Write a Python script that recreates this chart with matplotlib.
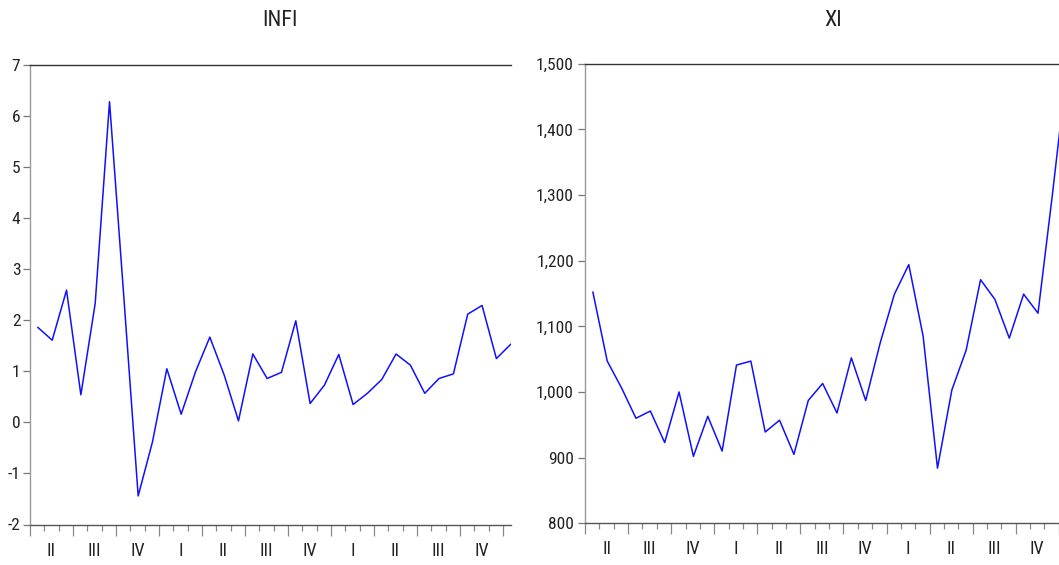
import numpy as np
import matplotlib
matplotlib.use('Agg')
import matplotlib.pyplot as plt
import matplotlib.transforms as mtrans
from matplotlib.ticker import MultipleLocator, FuncFormatter

# narrow font like the eviews output (falls back to Liberation Sans)
plt.rcParams['font.family'] = ['Liberation Sans Narrow', 'Roboto Condensed', 'Liberation Sans', 'DejaVu Sans']

# monthly data, April (year 1) to January (year 4)
infi = [1.86, 1.61, 2.59, 0.54, 2.33, 6.28, 2.45, -1.44, -0.38, 1.05,
        0.16, 0.99, 1.67, 0.93, 0.03, 1.34, 0.86, 0.98, 1.99, 0.37,
        0.73, 1.33, 0.35, 0.57, 0.84, 1.34, 1.12, 0.57, 0.86, 0.95,
        2.12, 2.29, 1.25, 1.53]
xi = [1152, 1047, 1006, 960, 971, 923, 1000, 902, 963, 910,
      1041, 1047, 939, 957, 905, 987, 1013, 968, 1052, 987,
      1074, 1149, 1194, 1085, 884, 1003, 1064, 1171, 1141, 1082,
      1149, 1120, 1300, 1490]
quarter_labels = ['II', 'III', 'IV', 'I', 'II', 'III', 'IV', 'I', 'II', 'III', 'IV']

months = np.arange(len(infi)) + 0.55

W, H = 1059, 565
fig = plt.figure(figsize=(W / 100, H / 100), dpi=100)

# axes positions in pixels
ax1 = fig.add_axes([30 / W, 1 - 524.5 / H, 481 / W, (524.5 - 65) / H])
ax2 = fig.add_axes([585 / W, 1 - 523.3 / H, 482 / W, (523.3 - 63.7) / H])


def style(ax, ymin, ymax, ystep, fmt):
    ax.set_xlim(0, 33.57)
    ax.set_ylim(ymin, ymax)
    ax.yaxis.set_major_locator(MultipleLocator(ystep))
    ax.yaxis.set_major_formatter(FuncFormatter(fmt))
    ax.spines['right'].set_visible(False)
    ax.spines['top'].set_color('#333333')
    ax.spines['bottom'].set_color('#555555')
    ax.spines['left'].set_color('#999999')
    for s in ax.spines.values():
        s.set_linewidth(1.0)
    ax.xaxis.set_major_locator(MultipleLocator(3))
    ax.xaxis.set_minor_locator(MultipleLocator(1))
    ax.tick_params(axis='x', which='major', length=8, width=0.9, color='#888888', labelbottom=False)
    ax.tick_params(axis='x', which='minor', length=4.5, width=0.9, color='#888888')
    ax.tick_params(axis='y', length=5, width=0.9, color='#777777', labelsize=12.5, pad=2,
                   labelcolor='#222222')
    # quarter labels centred between the long ticks
    trans = mtrans.blended_transform_factory(ax.transData, ax.transAxes)
    for k, lab in enumerate(quarter_labels):
        ax.text(3 * k + 1.5, -0.057, lab, transform=trans, ha='center', va='center',
                fontsize=13, color='#222222')


ax1.plot(months, infi, color='#1010ff', lw=1.1)
style(ax1, -2, 7, 1, lambda v, p: f'{v:.0f}')

ax2.plot(months, xi, color='#1010ff', lw=1.1)
style(ax2, 800, 1500, 100, lambda v, p: f'{v:,.0f}')
ax2.tick_params(axis='y', pad=3)

fig.text(280 / W, 1 - 21 / H, 'INFI', ha='center', va='center', fontsize=16, color='#222222')
fig.text(833 / W, 1 - 21 / H, 'XI', ha='center', va='center', fontsize=16, color='#222222')

fig.savefig('out.png', dpi=100)
